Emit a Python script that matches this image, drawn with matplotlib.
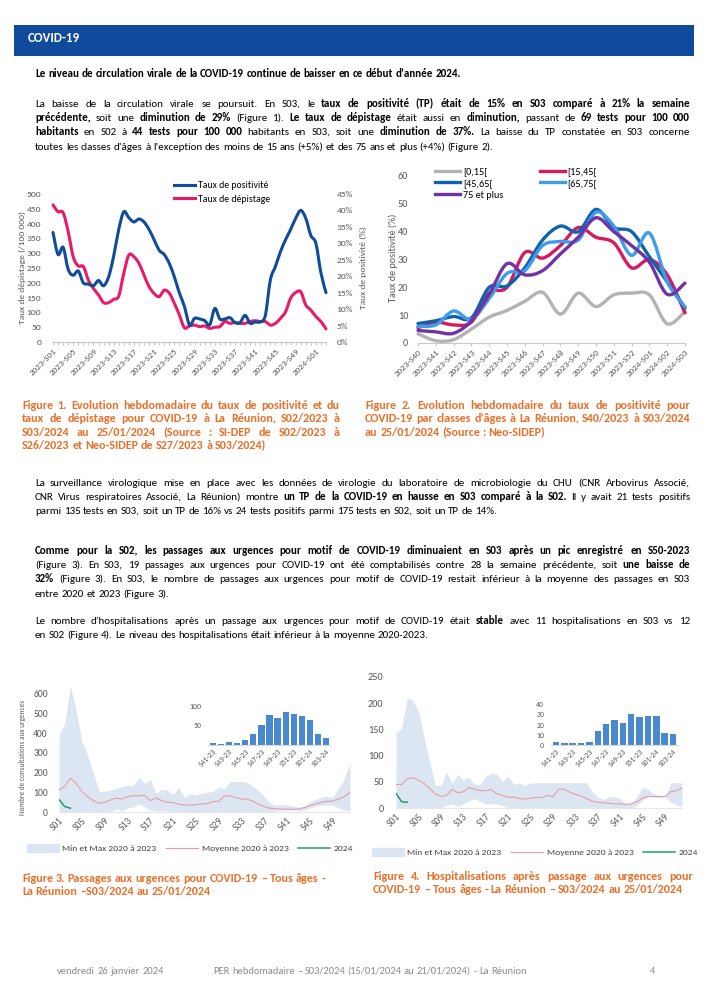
import matplotlib
matplotlib.use('Agg')
import matplotlib.pyplot as plt
import numpy as np
from matplotlib import font_manager
from matplotlib.font_manager import FontProperties
from matplotlib.backends.backend_agg import get_hinting_flag
from matplotlib.path import Path
from matplotlib.patches import PathPatch, Rectangle, Patch
from matplotlib.lines import Line2D

# ---------------- data ----------------
# Figure 1 : taux de positivite (%) et taux de depistage (/100 000), 2023-S01 -> 2024-S03
fig1_weeks = ['2023-S%02d' % w for w in range(1, 53)] + ['2024-S01', '2024-S02', '2024-S03']
fig1_positivite = [33.3, 26.6, 28.8, 22.1, 20.3, 21.6, 18.0, 17.6, 17.1, 18.7, 17.1, 19.8, 26.1, 34.2,
                   39.6, 37.8, 36.5, 37.4, 36.5, 34.2, 31.1, 27.9, 26.6, 23.9, 19.8, 14.9, 10.8, 5.2,
                   7.2, 7.0, 6.5, 5.2, 10.2, 7.0, 7.0, 7.4, 5.9, 5.9, 8.1, 5.7, 6.1, 6.1, 8.1, 18.9,
                   23.0, 27.5, 31.1, 34.2, 37.6, 40.0, 37.6, 32.4, 30.0, 21.0, 15.0]
fig1_depistage = [463, 440, 437, 373, 288, 257, 255, 209, 181, 159, 133, 133, 144, 155, 232, 294,
                  288, 266, 226, 187, 164, 153, 175, 165, 131, 91, 48, 54, 57, 52, 54, 46, 50, 52,
                  69, 63, 66, 63, 63, 69, 72, 69, 69, 57, 63, 80, 102, 148, 167, 170, 125, 108, 86,
                  69, 44]

# Figure 2 : taux de positivite par classe d'age
fig2_weeks = ['2023-S40', '2023-S41', '2023-S42', '2023-S43', '2023-S44', '2023-S45', '2023-S46',
              '2023-S47', '2023-S48', '2023-S49', '2023-S50', '2023-S51', '2023-S52', '2024-S01',
              '2024-S02', '2024-S03']
age_0_15 = [3.3, 0.8, 1.2, 5.0, 9.3, 11.7, 15.0, 18.2, 10.4, 17.9, 13.1, 17.3, 17.9, 17.3, 6.9, 11.3]
age_15_45 = [5.5, 7.5, 6.5, 7.5, 18.0, 20.0, 32.5, 30.5, 35.0, 41.5, 38.0, 36.0, 27.0, 30.0, 24.5, 10.8]
age_45_65 = [7.0, 8.0, 9.5, 9.0, 20.0, 20.5, 27.0, 37.0, 42.0, 40.0, 48.0, 41.5, 40.0, 31.0, 22.0, 12.5]
age_65_75 = [6.0, 6.5, 11.5, 8.5, 16.0, 25.0, 26.0, 35.0, 36.5, 37.0, 47.0, 42.0, 31.5, 39.5, 22.0, 13.0]
age_75_plus = [4.5, 4.0, 3.5, 8.0, 17.5, 28.5, 24.5, 26.0, 32.0, 38.0, 45.0, 40.0, 35.0, 29.0, 17.5, 21.5]

# Figures 3 et 4 : semaines S01 -> S52
weeks52 = ['S%02d' % w for w in range(1, 53)]
urg_max = [385, 450, 640, 520, 360, 290, 200, 105, 105, 112, 120, 128, 135, 135, 175, 145, 165, 95,
           115, 112, 90, 125, 75, 95, 85, 95, 100, 105, 125, 120, 155, 155, 155, 150, 130, 110, 75,
           45, 35, 38, 35, 30, 25, 30, 50, 65, 75, 80, 75, 120, 170, 250]
urg_min = [0, 0, 0, 0, 0, 0, 0, 0, 0, 0, 15, 5, 20, 25, 40, 25, 10, 5, 5, 5, 0, 0, 0, 0, 0, 0, 0,
           0, 0, 0, 0, 0, 0, 0, 0, 0, 0, 0, 5, 10, 10, 10, 5, 10, 20, 30, 35, 35, 35, 20, 10, 5]
urg_moy = [112, 129, 172, 146, 104, 78, 58, 44, 49, 61, 70, 66, 78, 82, 82, 85, 58, 71, 58, 49, 48,
           39, 36, 34, 37, 41, 42, 53, 54, 82, 82, 73, 66, 65, 54, 39, 27, 19, 17, 15, 14, 14, 15,
           22, 34, 41, 49, 54, 56, 66, 78, 99]
urg_2024 = [63, 28, 19]

hosp_max = [144, 152, 210, 206, 184, 136, 88, 43, 43, 69, 47, 64, 53, 59, 45, 45, 61, 66, 65, 50,
            61, 45, 48, 43, 48, 48, 48, 48, 48, 48, 48, 48, 48, 48, 48, 31, 21, 16, 22, 21, 18, 8,
            10, 22, 40, 35, 27, 24, 20, 48, 48, 48]
hosp_min = [0, 0, 0, 0, 0, 0, 0, 0, 0, 5, 8, 3, 8, 14, 18, 12, 8, 8, 8, 5, 0, 0, 0, 0, 0, 0, 0, 0,
            0, 0, 0, 0, 0, 0, 0, 0, 0, 0, 0, 0, 0, 0, 0, 5, 15, 22, 20, 20, 20, 12, 5, 3]
hosp_moy = [45, 45, 56, 58, 53, 47, 37, 27, 22, 24, 36, 29, 31, 39, 36, 33, 33, 35, 27, 24, 20, 21,
            18, 17, 19, 20, 20, 24, 21, 36, 36, 30, 26, 23, 18, 13, 11, 10, 9, 8, 8, 7, 8, 12, 19,
            22, 22, 22, 22, 31, 33, 38]
hosp_2024 = [28, 12, 11]

# encarts : S41-2023 -> S03-2024
inset_weeks = ['S41-23', 'S42-23', 'S43-23', 'S44-23', 'S45-23', 'S46-23', 'S47-23', 'S48-23',
               'S49-23', 'S50-23', 'S51-23', 'S52-23', 'S01-24', 'S02-24', 'S03-24']
urg_recent = [6, 2, 8, 4, 14, 29, 50, 76, 68, 84, 79, 73, 64, 28, 19]
hosp_recent = [3, 2, 2, 2, 3, 14, 21, 24, 22, 30, 27, 28, 28, 12, 11]

# ---------------- texts ----------------
title_line = "**Le niveau de circulation virale de la COVID-19 continue de baisser en ce début d’année 2024.**"
para1 = [
    "La baisse de la circulation virale se poursuit. En S03, le **taux de positivité (TP) était de 15% en S03 comparé à 21% la semaine**",
    "**précédente,** soit une **diminution de 29%** (Figure 1). **Le taux de dépistage** était aussi en **diminution,** passant de **69 tests pour 100 000**",
    "**habitants** en S02 à **44 tests pour 100 000** habitants en S03, soit une **diminution de 37%.** La baisse du TP constatée en S03 concerne",
    "toutes les classes d’âges à l’exception des moins de 15 ans (+5%)  et des 75 ans et plus (+4%) (Figure 2).",
]
para2 = [
    "La surveillance virologique mise en place avec les données de virologie du laboratoire de microbiologie du CHU (CNR Arbovirus Associé,",
    "CNR Virus respiratoires Associé, La Réunion) montre **un TP de la COVID-19 en hausse en S03 comparé à la S02.** Il y avait 21 tests positifs",
    "parmi 135 tests en S03, soit un TP de 16% vs 24 tests positifs parmi 175 tests en S02, soit un TP de 14%.",
]
para3 = [
    "**Comme pour la S02, les passages aux urgences pour motif de COVID-19 diminuaient en S03 après un pic enregistré en S50-2023**",
    "(Figure 3). En S03, 19 passages aux urgences pour COVID-19 ont été comptabilisés contre 28 la semaine précédente, soit **une baisse de**",
    "**32%** (Figure 3). En S03, le nombre de passages aux urgences pour motif de COVID-19 restait inférieur à la moyenne des passages en S03",
    "entre 2020 et 2023 (Figure 3).",
]
para4 = [
    "Le nombre d’hospitalisations après un passage aux urgences pour motif de COVID-19 était **stable** avec 11 hospitalisations en S03 vs 12",
    "en S02 (Figure 4). Le niveau des hospitalisations était inférieur à la moyenne 2020-2023.",
]
cap1 = ["Figure 1. Evolution hebdomadaire du taux de positivité et du",
        "taux de dépistage pour COVID-19 à La Réunion, S02/2023 à",
        "S03/2024 au 25/01/2024 (Source : SI-DEP de S02/2023 à",
        "S26/2023 et Neo-SIDEP de S27/2023 à S03/2024)"]
cap2 = ["Figure 2. Evolution hebdomadaire du taux de positivité pour",
        "COVID-19 par classes d’âges à La Réunion, S40/2023 à S03/2024",
        "au 25/01/2024 (Source : Neo-SIDEP)"]
cap3 = ["Figure 3. Passages aux urgences pour COVID-19 – Tous âges -",
        "La Réunion –S03/2024 au 25/01/2024"]
cap4 = ["Figure 4. Hospitalisations après passage aux urgences pour",
        "COVID-19 – Tous âges - La Réunion – S03/2024 au 25/01/2024"]
footer = ["vendredi 26 janvier 2024",
          "PER hebdomadaire – S03/2024 (15/01/2024 au 21/01/2024) - La Réunion", "4"]

# ---------------- setup ----------------
names = {f.name for f in font_manager.fontManager.ttflist}
FONT = 'Carlito' if 'Carlito' in names else 'Lato'
plt.rcParams['font.family'] = [FONT]

W, H = 707, 1000
fig = plt.figure(figsize=(W / 100, H / 100), dpi=100)
renderer = fig.canvas.get_renderer()

ORANGE = '#E8702A'
TICK = '#595959'
GREY = '#C8C8C8'
LS = 14.2    # interligne du texte courant (px)
LSC = 13.3   # interligne des legendes de figures (px)


def fx(x):
    return x / W


def fy(y):
    return 1 - y / H


def split_words(s, bold=False):
    words = []
    for k, part in enumerate(s.split('**')):
        b = bold or (k % 2 == 1)
        for w in part.split():
            words.append((w, b))
    return words


def measure(s, size, weight='normal'):
    t = fig.text(0, 0, s, fontsize=size, fontweight=weight)
    w = t.get_window_extent(renderer).width
    t.remove()
    return w


def baseline_shift(s, size, weight):
    # agg pastes every word bitmap on whole pixels; find the offset that puts
    # the baseline of this word on the same pixel row as the other words
    try:
        prop = FontProperties(family=FONT, size=size, weight=weight)
        font = renderer._prepare_font(prop)
        font.set_text(s, 0, flags=get_hinting_flag())
        h = font.get_width_height()[1] / 64
        d = font.get_descent() / 64
        return np.floor(h) - np.floor(h - d) - d
    except Exception:
        return 0.0


def natural_width(s, size, bold=False):
    words = split_words(s, bold)
    sp = measure('a a', size) - measure('aa', size)
    return sum(measure(w, size, 'bold' if b else 'normal') for w, b in words) + sp * (len(words) - 1)


def fit_size(pairs, bold=False):
    # font size so that the natural widths of some reference lines match the page
    got = sum(natural_width(s, 10, bold) for s, _ in pairs)
    return 10 * sum(t for _, t in pairs) / got


def put_line(x0, y, s, size, color='black', x1=None, bold=False):
    # one line of text, "**" toggles bold, optional justification up to x1
    words = split_words(s, bold)
    arts, shifts = [], []
    for w, b in words:
        weight = 'bold' if b else 'normal'
        arts.append(fig.text(0, 0, w, fontsize=size, color=color, va='baseline', ha='left',
                             fontweight=weight))
        shifts.append(baseline_shift(w, size, weight))
    widths = [t.get_window_extent(renderer).width for t in arts]
    if x1 is not None and len(arts) > 1:
        gap = (x1 - x0 - sum(widths)) / (len(arts) - 1)
    else:
        gap = measure('a a', size) - measure('aa', size)
    row = round(y + 3)
    x = x0
    for t, w, sh in zip(arts, widths, shifts):
        t.set_position((fx(x), fy(row + sh)))
        x += w + gap


def put_block(x0, y0, lines, size, step, x1=None, **kw):
    # paragraph: every line justified except the last one
    for k, line in enumerate(lines):
        put_line(x0, y0 + step * k, line, size, x1=x1 if k < len(lines) - 1 else None, **kw)


def smooth_line(ax, xs, ys, color, lw, zorder=3):
    # excel-like smoothed line (bezier through the data points)
    pts = np.column_stack([xs, ys]).astype(float)
    n = len(pts)
    verts = [pts[0]]
    codes = [Path.MOVETO]
    for i in range(n - 1):
        p0 = pts[i - 1] if i > 0 else pts[i]
        p1 = pts[i]
        p2 = pts[i + 1]
        p3 = pts[i + 2] if i + 2 < n else pts[i + 1]
        verts += [p1 + (p2 - p0) / 6, p2 - (p3 - p1) / 6, p2]
        codes += [Path.CURVE4] * 3
    ax.add_patch(PathPatch(Path(verts, codes), fill=False, edgecolor=color, lw=lw,
                           capstyle='round', joinstyle='round', zorder=zorder, clip_on=False))


def clean(ax, bottom=True):
    for s in ['top', 'right', 'left']:
        ax.spines[s].set_visible(False)
    ax.spines['bottom'].set_visible(bottom)
    ax.spines['bottom'].set_color(GREY)
    ax.spines['bottom'].set_linewidth(0.8)
    ax.patch.set_alpha(0)
    ax.tick_params(axis='y', length=0, colors=TICK)
    ax.tick_params(axis='x', color=GREY, labelcolor=TICK)


BODY = fit_size([(title_line, 442), (para1[3], 453), (para2[2], 417), (para3[3], 143), (para4[1], 423)])
CAP = fit_size([(cap3[0], 301), (cap3[1], 188), (cap1[3], 242), (cap2[2], 176), (cap4[1], 312)], bold=True)

# ---------------- page texts ----------------
fig.patches.append(Rectangle((fx(14), fy(56)), fx(680), 31 / H, transform=fig.transFigure,
                             facecolor='#0F4A9C', edgecolor='none'))
put_line(28, 39, "COVID-19", BODY * 1.18, color='white', bold=True)

put_line(35, 74, title_line, BODY)
put_block(35, 104, para1, BODY, LS, x1=690)
put_block(35, 483, para2, BODY, LS, x1=690)
put_block(35, 551, para3, BODY, LS, x1=690)
put_block(35, 621, para4, BODY, LS, x1=690)

put_block(22, 406, cap1, CAP, LSC, x1=340, color=ORANGE, bold=True)
put_block(365, 406, cap2, CAP, LSC, x1=690, color=ORANGE, bold=True)
put_block(22, 879, cap3, CAP, LSC, color=ORANGE, bold=True)
put_block(373, 877, cap4, CAP, LSC, x1=693, color=ORANGE, bold=True)

for xpos, line in zip([57, 213, 650], footer):
    put_line(xpos, 971, line, BODY * 0.95, color='#8C8C8C')

# ---------------- Figure 1 ----------------
BLUE1 = '#0F4C9A'
PINK1 = '#EA1A68'
x1 = np.arange(len(fig1_weeks))
ax1 = fig.add_axes([fx(53), fy(342), (326 - 53) / W, (342 - 194) / H])
ax1r = ax1.twinx()
smooth_line(ax1, x1, fig1_depistage, PINK1, 2.2)
smooth_line(ax1r, x1, fig1_positivite, BLUE1, 2.2)
ax1.set_xlim(0, len(x1) - 1)
ax1.set_ylim(0, 500)
ax1r.set_ylim(0, 45)
clean(ax1)
clean(ax1r, bottom=False)
ax1.set_yticks(range(0, 501, 50))
ax1r.set_yticks(range(0, 46, 5))
ax1r.set_yticklabels(['%d%%' % v for v in range(0, 46, 5)])
ax1.tick_params(axis='y', labelsize=6.8, pad=8.5)
ax1r.tick_params(axis='y', labelsize=6.8, pad=7.5)
ax1.set_xticks(x1)
ax1.set_xticklabels([w if i % 4 == 0 else '' for i, w in enumerate(fig1_weeks)])
ax1.tick_params(axis='x', labelsize=6.5, length=2.5, pad=1.5)
plt.setp(ax1.get_xticklabels(), rotation=45, ha='right', rotation_mode='anchor')
fig.text(fx(22), fy(268), "Taux de dépistage (/100 000)", rotation=90, ha='center', va='center',
         fontsize=6.8, color=TICK)
fig.text(fx(363), fy(268), "Taux de positivité (%)", rotation=90, ha='center', va='center',
         fontsize=6.8, color=TICK)
ax1r.legend([Line2D([], [], color=BLUE1, lw=2.2), Line2D([], [], color=PINK1, lw=2.2)],
            ['Taux de positivité', 'Taux de dépistage'], loc='upper left',
            bbox_to_anchor=(fx(174), fy(181)), bbox_transform=fig.transFigure, frameon=False,
            fontsize=7, handlelength=2.2, handletextpad=0.25, labelspacing=0.5,
            borderpad=0, borderaxespad=0)

# ---------------- Figure 2 ----------------
C_0_15 = '#B3B3B3'
C_15_45 = '#D9195F'
C_45_65 = '#0E63AD'
C_65_75 = '#3D9DEB'
C_75 = '#7232A5'
x2 = np.arange(len(fig2_weeks))
ax2 = fig.add_axes([fx(418), fy(343), (685 - 418) / W, (343 - 176) / H])
smooth_line(ax2, x2, age_0_15, C_0_15, 2.4)
smooth_line(ax2, x2, age_15_45, C_15_45, 2.4)
smooth_line(ax2, x2, age_45_65, C_45_65, 2.4)
smooth_line(ax2, x2, age_65_75, C_65_75, 2.4)
smooth_line(ax2, x2, age_75_plus, C_75, 2.4)
ax2.set_xlim(0, len(x2) - 1)
ax2.set_ylim(0, 60)
clean(ax2)
ax2.set_yticks(range(0, 61, 10))
ax2.tick_params(axis='y', labelsize=7.3, pad=7)
ax2.set_xticks(x2)
ax2.set_xticklabels(fig2_weeks)
ax2.tick_params(axis='x', labelsize=6.5, length=2.5, pad=1.5)
plt.setp(ax2.get_xticklabels(), rotation=45, ha='right', rotation_mode='anchor')
fig.text(fx(393), fy(258), "Taux de positivité (%)", rotation=90, ha='center', va='center',
         fontsize=7.3, color=TICK)
h2 = {lab: Line2D([], [], color=c, lw=2.4) for lab, c in
      [('[0,15[', C_0_15), ('[15,45[', C_15_45), ('[45,65[', C_45_65), ('[65,75[', C_65_75),
       ('75 et plus', C_75)]}
order = ['[0,15[', '[45,65[', '75 et plus', '[15,45[', '[65,75[']
ax2.legend([h2[k] for k in order], order, ncol=2, loc='upper left',
           bbox_to_anchor=(fx(435), fy(167)), bbox_transform=fig.transFigure, frameon=False,
           fontsize=7.3, handlelength=2.5, handletextpad=0.25, labelspacing=0.28,
           columnspacing=3.6, borderpad=0, borderaxespad=0)

# ---------------- Figures 3 et 4 ----------------
BAND = '#DCE6F2'
MEAN = '#E59DA5'
GREEN = '#1E9E66'
BAR = '#4A89D0'
x52 = np.arange(len(weeks52))


def urgences_axes(rect, vmax, vmin, vmoy, v2024, ylim, yticks, ysize, ypad, legend_xy):
    ax = fig.add_axes(rect)
    ax.fill_between(x52, vmin, vmax, color=BAND, lw=0)
    ax.plot(x52, vmoy, color=MEAN, lw=0.8)
    ax.plot(x52[:len(v2024)], v2024, color=GREEN, lw=1.1)
    ax.set_xlim(0, len(x52) - 1)
    ax.set_ylim(*ylim)
    clean(ax)
    ax.spines['bottom'].set_color('#E6E6E6')
    ax.set_yticks(yticks)
    ax.tick_params(axis='y', labelsize=ysize, pad=ypad)
    ax.set_xticks(x52[::4])
    ax.set_xticklabels(weeks52[::4])
    ax.tick_params(axis='x', labelsize=6.9, length=0, pad=3)
    plt.setp(ax.get_xticklabels(), rotation=45, ha='right', rotation_mode='anchor')
    ax.legend([Patch(color=BAND), Line2D([], [], color=MEAN, lw=0.8), Line2D([], [], color=GREEN, lw=1.1)],
              ['Min et Max 2020 à 2023', 'Moyenne 2020 à 2023', '2024'], ncol=3, loc='center',
              bbox_to_anchor=legend_xy, bbox_transform=fig.transFigure, frameon=False,
              fontsize=6.8, handlelength=3.4, handleheight=0.9, handletextpad=0.4,
              columnspacing=1.0, borderpad=0, borderaxespad=0)
    for t in ax.get_legend().get_texts():
        t.set_color('#404040')
    return ax


def inset_axes(rect, values, ylim, yticks):
    ax = fig.add_axes(rect)
    ax.bar(np.arange(len(values)), values, width=0.78, color=BAR)
    ax.set_xlim(-0.6, len(values) - 0.4)
    ax.set_ylim(*ylim)
    clean(ax)
    ax.spines['bottom'].set_color('#D9D9D9')
    ax.set_yticks(yticks)
    ax.tick_params(axis='y', labelsize=5.6, pad=5)
    ax.set_xticks(np.arange(0, len(values), 2))
    ax.set_xticklabels(inset_weeks[::2])
    ax.tick_params(axis='x', labelsize=5.6, length=0, pad=2)
    plt.setp(ax.get_xticklabels(), rotation=45, ha='right', rotation_mode='anchor')
    return ax


ax3 = urgences_axes([fx(59), fy(812), (350 - 59) / W, 130 / H], urg_max, urg_min, urg_moy, urg_2024,
                    (0, 660), range(0, 601, 100), 6.9, 8, (fx(190), fy(848)))
fig.text(fx(23), fy(757), "Nombre de consultations aux urgences", rotation=90, ha='center',
         va='center', fontsize=5.2, color=TICK)
inset_axes([fx(208), fy(745), 123 / W, 43 / H], urg_recent, (0, 110), [50, 100])

ax4 = urgences_axes([fx(396), fy(808), (682 - 396) / W, 131 / H], hosp_max, hosp_min, hosp_moy, hosp_2024,
                    (0, 250), range(0, 251, 50), 7.4, 9, (fx(535), fy(852)))
inset_axes([fx(551), fy(745), 127 / W, 45 / H], hosp_recent, (0, 44), range(0, 41, 10))

fig.savefig('out.png', dpi=100, facecolor='white')
